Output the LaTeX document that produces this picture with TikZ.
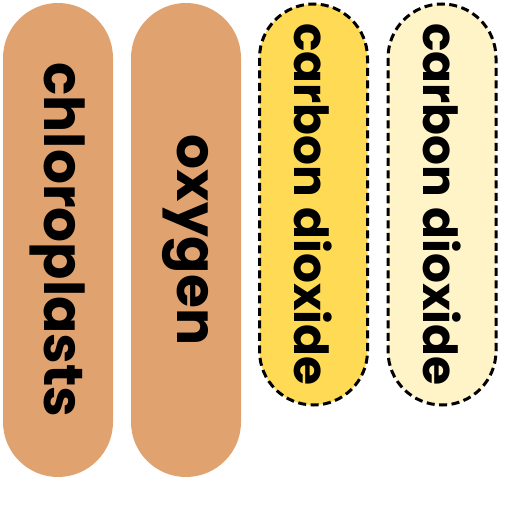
\documentclass[tikz,border=0pt]{standalone}
\usepackage{fontspec}
\setmainfont{Poppins}[BoldFont={* Bold}]
\definecolor{tan}{HTML}{E0A370}
\definecolor{gold}{HTML}{FFDB55}
\definecolor{cream}{HTML}{FFF3C8}
\tikzset{
  pill/.style={rotate=-90, inner sep=0pt, font=\bfseries, text=black},
  bigpill/.style={pill, minimum width=474pt, minimum height=110pt, rounded corners=55pt, fill=tan, font=\fontsize{55}{60}\selectfont\bfseries},
  dashpill/.style={pill, minimum width=401pt, minimum height=108pt, rounded corners=54pt, draw=black, line width=3pt, dash pattern=on 8pt off 4.5pt, font=\fontsize{47}{52}\selectfont\bfseries}
}
\begin{document}
\begin{tikzpicture}[x=1pt,y=1pt]
\useasboundingbox (0,0) rectangle (512,512);
\node[bigpill] (chl) at (58,272) {chloroplasts};
\node[bigpill] (oxy) at (186,272) {oxygen};
\node[dashpill, fill=gold] (co2a) at (313.5,307.5) {carbon dioxide};
\node[dashpill, fill=cream] (co2b) at (442,307.5) {carbon dioxide};
\end{tikzpicture}
\end{document}
